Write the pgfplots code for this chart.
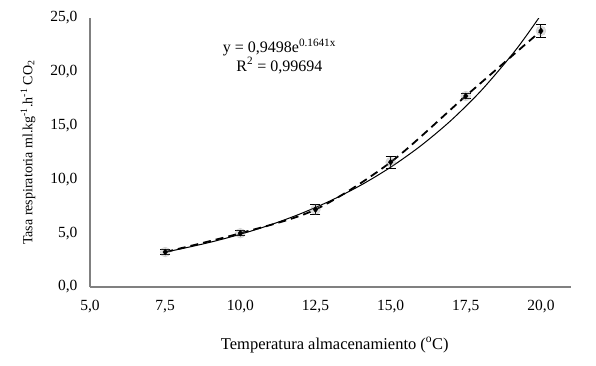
\documentclass[border=0pt]{standalone}
\usepackage{fontspec}
\setmainfont{Liberation Serif}
\usepackage{pgfplots}
\pgfplotsset{compat=1.18}
\begin{document}
\begin{tikzpicture}
\path[use as bounding box] (0pt,0pt) rectangle (596pt,-365pt);
\begin{axis}[
  scale only axis, width=481pt, height=269pt,
  at={(90pt,-287pt)}, anchor=south west,
  xmin=5, xmax=21, ymin=0, ymax=25,
  xtick={5,7.5,10,12.5,15,17.5,20},
  ytick={0,5,10,15,20,25},
  axis lines=left,
  axis line style={draw=black!50, line width=1.2pt, -},
  major tick length=0pt,
  tick style={draw=none},
  tick label style={font=\fontsize{15.5}{18}\selectfont},
  /pgf/number format/assume math mode=true,
  /pgf/number format/.cd, use comma, fixed, fixed zerofill, precision=1,
  /pgfplots/.cd,
  xticklabel style={yshift=-10pt},
  yticklabel style={xshift=-9pt},
  xlabel={Temperatura almacenamiento (\textsuperscript{o}C)},
  ylabel={Tasa respiratoria ml.kg\textsuperscript{-1}.h\textsuperscript{-1} CO\textsubscript{2}},
  every axis x label/.style={at={(axis description cs:0.509,-0.216)}, anchor=center, font=\fontsize{16.5}{19}\selectfont},
  every axis y label/.style={at={(axis description cs:-0.129,0.50)}, anchor=center, rotate=90, font=\fontsize{14}{17}\selectfont},
  clip=true,
]
% smooth dashed line through means
\addplot[black, line width=1.8pt, dash pattern=on 8pt off 5pt, smooth, tension=0.5] coordinates {
(7.5,3.25) (10,5.0) (12.5,7.2) (15,11.6) (17.5,17.75) (20,23.8)};
% exponential trendline y = 0.9498 e^{0.1641x}, values computed
\addplot[black, line width=1pt, smooth] coordinates {
(7.5,3.252) (8,3.530) (9,4.160) (10,4.901) (11,5.776) (12,6.806) (13,8.019)
(14,9.449) (15,11.134) (16,13.120) (17,15.460) (18,18.217) (19,21.466) (19.5,23.30) (20,25.29)};
% halo
\addplot[only marks, mark=*, mark size=5pt, gray, opacity=0.25, mark options={draw=none, fill=gray}] coordinates {
(7.5,3.25) (10,5.0) (12.5,7.2) (15,11.6) (17.5,17.75) (20,23.8)};
% means with error bars
\addplot[only marks, mark=diamond*, mark size=3pt, black,
  error bars/.cd, y dir=both, y explicit,
  error bar style={black, line width=1pt},
  error mark options={rotate=90, mark size=5pt, line width=1pt, black}] coordinates {
(7.5,3.25) +- (0,0.25)
(10,5.0) +- (0,0.25)
(12.5,7.2) +- (0,0.5)
(15,11.6) +- (0,0.55)
(17.5,17.75) +- (0,0.25)
(20,23.8) +- (0,0.6)};
\node[align=center, font=\fontsize{16}{18.5}\selectfont] at (axis cs:11.3,21.45) {y = 0,9498e\textsuperscript{0.1641x}\\R\textsuperscript{2} = 0,99694};
\end{axis}
\end{tikzpicture}
\end{document}
